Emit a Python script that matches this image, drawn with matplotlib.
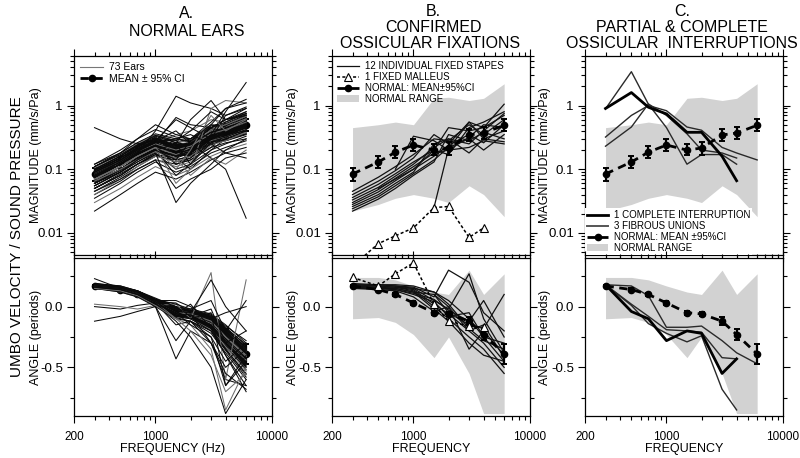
import numpy as np
import matplotlib.pyplot as plt
from matplotlib.lines import Line2D
from matplotlib.patches import Patch
from matplotlib.ticker import FixedLocator, LogLocator, MultipleLocator, NullFormatter

plt.rcParams['font.family'] = ['Liberation Sans', 'DejaVu Sans']
nan = float('nan')

freqs = [300, 500, 700, 1000, 1500, 2000, 3000, 4000, 6000]

# normal ears: mean and 95% CI
mean_mag = [0.084, 0.13, 0.185, 0.24, 0.20, 0.215, 0.345, 0.37, 0.49]
ci_mag_lo = [0.065, 0.105, 0.15, 0.19, 0.165, 0.17, 0.28, 0.30, 0.40]
ci_mag_hi = [0.105, 0.16, 0.23, 0.30, 0.25, 0.27, 0.43, 0.46, 0.62]
mean_ang = [0.17, 0.14, 0.10, 0.03, -0.05, -0.06, -0.12, -0.23, -0.39]
ci_ang = [0.01, 0.01, 0.012, 0.015, 0.015, 0.015, 0.035, 0.045, 0.08]

# normal range (shaded)
range_mag_lo = [0.022, 0.028, 0.035, 0.04, 0.035, 0.03, 0.055, 0.04, 0.018]
range_mag_hi = [0.45, 0.5, 0.55, 0.5, 1.3, 1.35, 1.2, 1.3, 2.2]
range_ang_lo = [-0.10, -0.09, -0.13, -0.23, -0.42, -0.25, -0.55, -0.88, -0.88]
range_ang_hi = [0.24, 0.24, 0.22, 0.17, 0.12, 0.10, 0.30, 0.10, 0.27]

# 73 individual normal ears
ears_mag = [
    [.080, .13, .19, .25, .20, .22, .35, .38, .50],
    [.070, .11, .16, .22, .12, .15, .30, .33, .45],
    [.095, .15, .21, .28, .24, .25, .40, .42, .55],
    [.060, .10, .14, .19, .15, .10, .20, .30, .40],
    [.110, .17, .24, .30, .22, .24, .38, .45, .62],
    [.050, .085, .12, .17, .13, .15, .25, .28, .36],
    [.085, .14, .20, .27, .30, .26, .45, .50, .70],
    [.075, .12, .18, .24, .12, .14, .22, .35, .48],
    [.090, .15, .22, .30, .28, .20, .30, .55, .80],
    [.065, .10, .15, .20, .25, .30, .42, .40, .52],
    [.045, .075, .11, .16, .18, .22, .33, .30, .38],
    [.100, .16, .23, .32, .20, .18, .28, .40, .58],
    [.120, .18, .26, .35, .26, .30, .50, .48, .65],
    [.055, .09, .13, .18, .10, .12, .20, .25, .33],
    [.080, .13, .19, .26, .35, .40, .60, .55, .75],
    [.070, .12, .17, .23, .18, .16, .26, .32, .42],
    [.040, .065, .10, .14, .12, .14, .22, .26, .30],
    [.085, .14, .21, .29, .21, .25, .38, .35, .46],
    [.095, .15, .22, .31, .23, .22, .32, .45, .60],
    [.060, .10, .15, .21, .16, .20, .35, .42, .55],
    [.075, .12, .18, .22, .14, .16, .30, .38, .52],
    [.110, .18, .26, .36, .30, .28, .42, .50, .68],
    [.035, .06, .09, .13, .09, .11, .18, .22, .28],
    [.065, .11, .16, .22, .22, .25, .45, .60, .90],
    [.090, .14, .20, .25, .17, .20, .32, .30, .38],
    [.080, .13, .18, .23, .19, .24, .40, .45, .62],
    [.050, .08, .12, .16, .14, .16, .28, .34, .45],
    [.070, .11, .17, .24, .20, .21, .30, .28, .35],
    [.100, .16, .24, .33, .26, .24, .36, .42, .55],
    [.030, .05, .075, .11, .08, .10, .16, .20, .25],
    [.085, .13, .19, .27, .22, .27, .48, .52, .72],
    [.060, .095, .14, .20, .16, .18, .30, .40, .58],
    [.075, .12, .17, .22, .25, .20, .24, .30, .36],
    [.120, .20, .30, .42, .32, .30, .45, .55, .75],
    [.045, .07, .10, .14, .11, .13, .24, .28, .38],
    [.090, .14, .21, .28, .20, .23, .36, .40, .50],
    [.065, .10, .15, .21, .18, .22, .38, .45, .65],
    [.080, .12, .17, .20, .08, .12, .26, .30, .40],
    [.055, .09, .14, .20, .17, .19, .32, .38, .48],
    [.105, .17, .25, .35, .28, .26, .40, .46, .62],
    [.070, .11, .16, .21, .16, .18, .30, .36, .50],
    [.095, .15, .21, .26, .20, .25, .44, .40, .52],
    [.060, .10, .15, .22, .19, .20, .28, .34, .44],
    [.085, .13, .20, .28, .24, .22, .34, .48, .70],
    [.040, .07, .11, .16, .13, .16, .28, .32, .42],
    [.075, .12, .18, .25, .21, .24, .36, .44, .58],
    [.110, .17, .24, .30, .24, .26, .38, .42, .55],
    [.050, .08, .12, .17, .15, .18, .30, .36, .50],
    [.080, .13, .19, .26, .19, .21, .33, .39, .50],
    [.070, .11, .16, .22, .17, .22, .42, .50, .68],
    [.090, .14, .20, .27, .23, .25, .38, .36, .45],
    [.065, .10, .15, .20, .16, .17, .27, .32, .42],
    [.100, .16, .23, .30, .22, .22, .35, .45, .58],
    [.055, .09, .13, .19, .16, .19, .33, .40, .55],
    [.085, .13, .19, .25, .20, .23, .36, .42, .55],
    [.075, .12, .17, .23, .18, .20, .31, .37, .48],
    [.022, .04, .06, .09, .07, .09, .14, .18, .22],
    [.450, .30, .25, .28, .60, .45, .30, .35, .40],
    [.080, .12, .18, .40, 1.40, 1.10, .90, .70, .90],
    [.070, .11, .16, .22, .06, .10, .90, 1.20, 1.10],
    [.060, .10, .15, .20, .25, .60, 1.20, .60, .80],
    [.090, .14, .20, .28, .40, .25, .15, .10, .017],
    [.050, .08, .12, .18, .03, .06, .12, .20, .30],
    [.075, .12, .18, .24, .18, .20, .35, .80, 2.30],
    [.065, .10, .14, .19, .15, .08, .15, .12, .20],
    [.085, .13, .19, .26, .65, .50, .45, .60, .75],
    [.110, .18, .30, .50, .35, .30, .55, .90, 1.10],
    [.045, .07, .10, .14, .05, .07, .10, .15, .18],
    [.095, .15, .22, .30, .25, .12, .30, .70, .95],
    [.070, .11, .16, .22, .10, .20, .70, .40, .60],
    [.080, .13, .19, .27, .30, .35, .25, .18, .15],
    [.060, .09, .14, .20, .14, .28, .50, .90, 1.25],
    [.100, .16, .24, .34, .28, .40, .80, .60, .70],
]
ears_ang = [
    [.17, .15, .11, .04, -.04, -.06, -.12, -.22, -.38],
    [.18, .16, .12, .05, -.02, -.05, -.10, -.20, -.40],
    [.16, .13, .09, .02, -.06, -.07, -.14, -.26, -.42],
    [.17, .15, .12, .06, -.03, -.04, -.08, -.18, -.35],
    [.15, .12, .08, .01, -.08, -.10, -.18, -.30, -.48],
    [.18, .16, .13, .07, .00, -.02, -.06, -.15, -.30],
    [.17, .14, .10, .03, -.05, -.08, -.15, -.28, -.45],
    [.16, .14, .10, .04, -.04, -.05, -.10, -.24, -.50],
    [.18, .15, .11, .03, -.07, -.09, -.20, -.35, -.55],
    [.17, .15, .12, .05, -.01, -.03, -.08, -.20, -.36],
    [.16, .13, .09, .01, -.09, -.12, -.22, -.38, -.60],
    [.17, .15, .11, .04, -.03, -.06, -.12, -.25, -.40],
    [.19, .17, .13, .06, -.02, -.04, -.10, -.22, -.42],
    [.15, .13, .09, .02, -.05, -.08, -.16, -.30, -.46],
    [.17, .14, .10, .03, -.06, -.07, -.13, -.27, -.44],
    [.18, .16, .12, .05, -.03, -.05, -.09, -.19, -.33],
    [.16, .14, .10, .03, -.04, -.07, -.14, -.26, -.41],
    [.17, .15, .11, .04, -.05, -.06, -.11, -.23, -.38],
    [.18, .15, .11, .03, -.06, -.08, -.17, -.32, -.52],
    [.16, .13, .10, .04, -.02, -.04, -.09, -.21, -.37],
    [.17, .15, .12, .06, .00, -.03, -.07, -.16, -.28],
    [.15, .12, .08, .00, -.10, -.12, -.20, -.36, -.58],
    [.17, .14, .10, .03, -.05, -.06, -.12, -.24, -.39],
    [.18, .16, .12, .04, -.04, -.05, -.11, -.22, -.43],
    [.16, .14, .11, .05, -.02, -.05, -.10, -.20, -.35],
    [.17, .15, .11, .03, -.06, -.09, -.16, -.30, -.47],
    [.19, .16, .12, .05, -.03, -.04, -.08, -.18, -.34],
    [.16, .13, .09, .02, -.07, -.08, -.15, -.29, -.45],
    [.17, .15, .12, .05, -.01, -.06, -.13, -.26, -.40],
    [.18, .15, .11, .04, -.05, -.07, -.12, -.24, -.41],
    [.16, .14, .10, .02, -.06, -.07, -.14, -.28, -.46],
    [.17, .14, .10, .04, -.04, -.05, -.09, -.20, -.38],
    [.15, .13, .10, .03, -.05, -.08, -.18, -.34, -.50],
    [.18, .16, .13, .06, -.01, -.03, -.07, -.17, -.32],
    [.17, .15, .11, .03, -.06, -.06, -.10, -.22, -.40],
    [.16, .13, .09, .02, -.07, -.09, -.17, -.31, -.49],
    [.17, .15, .11, .04, -.03, -.05, -.11, -.24, -.41],
    [.18, .16, .12, .05, -.02, -.04, -.10, -.21, -.36],
    [.16, .14, .10, .03, -.05, -.07, -.13, -.27, -.44],
    [.17, .14, .10, .02, -.08, -.10, -.19, -.33, -.53],
    [.18, .15, .11, .04, -.04, -.05, -.11, -.23, -.39],
    [.16, .14, .11, .05, -.01, -.04, -.09, -.19, -.34],
    [.17, .15, .11, .03, -.05, -.07, -.14, -.29, -.47],
    [.17, .14, .10, .03, -.06, -.08, -.15, -.26, -.42],
    [.18, .16, .12, .05, -.03, -.05, -.12, -.25, -.40],
    [.16, .13, .09, .01, -.08, -.09, -.16, -.30, -.48],
    [.17, .15, .11, .04, -.04, -.06, -.12, -.22, -.37],
    [.15, .13, .10, .04, -.03, -.06, -.13, -.27, -.45],
    [.17, .15, .12, .05, -.02, -.03, -.08, -.18, -.31],
    [.18, .16, .12, .04, -.05, -.07, -.14, -.28, -.44],
    [.16, .14, .10, .03, -.04, -.06, -.11, -.21, -.36],
    [.17, .14, .10, .02, -.07, -.09, -.18, -.35, -.56],
    [.18, .15, .11, .04, -.03, -.05, -.10, -.22, -.38],
    [.16, .14, .11, .04, -.04, -.07, -.15, -.28, -.43],
    [.17, .15, .11, .03, -.05, -.06, -.12, -.25, -.41],
    [.17, .15, .12, .05, -.02, -.04, -.09, -.20, -.35],
    [.23, .15, .10, .02, -.08, -.10, -.20, -.40, -.70],
    [.00, -.02, .01, .03, -.05, -.08, -.15, -.30, -.50],
    [-.12, -.08, -.04, .00, -.43, -.20, -.30, -.60, -.65],
    [.02, .00, -.02, .01, .02, -.10, .28, -.60, .22],
    [.18, .16, .12, .04, .03, -.05, .22, .00, -.20],
    [.17, .15, .11, .02, -.12, -.25, -.50, -.88, -.60],
    [.16, .14, .10, .00, -.28, -.12, -.30, -.55, -.68],
    [.18, .16, .12, .05, -.04, -.10, -.05, -.65, -.40],
    [.17, .15, .11, .04, -.10, -.15, -.35, -.85, -.50],
    [.16, .14, .10, .05, .05, .00, -.10, -.05, .00],
    [.18, .16, .12, .03, -.15, -.12, -.25, -.45, -.30],
    [.17, .15, .11, .04, -.06, .02, -.18, -.40, -.65],
    [.19, .17, .13, .06, .02, -.02, .05, -.20, .05],
    [.15, .13, .09, .01, -.10, -.20, -.40, -.70, -.55],
    [.17, .15, .12, .06, .00, -.08, -.02, -.30, -.20],
    [.16, .14, .10, .02, -.05, -.15, -.25, -.65, -.45],
    [.18, .16, .12, .04, -.08, -.06, -.30, -.50, -.35],
]

# 12 fixed stapes
stapes_mag = [
    [0.045, 0.075, 0.11, 0.17, 0.30, 0.28, 0.50, 0.35, 0.60],
    [0.040, 0.065, 0.095, 0.15, 0.35, 0.25, 0.55, 0.30, 0.27],
    [0.036, 0.058, 0.085, 0.13, 0.20, 0.45, 0.40, 0.45, 1.05],
    [0.033, 0.052, 0.078, 0.12, 0.22, 0.30, 0.25, 0.40, 0.75],
    [0.030, 0.048, 0.072, 0.11, 0.18, 0.20, 0.32, 0.50, 0.45],
    [0.028, 0.044, 0.066, 0.10, 0.16, 0.24, 0.35, 0.26, 0.50],
    [0.026, 0.040, 0.060, 0.09, 0.25, 0.30, 0.18, 0.30, 0.40],
    [0.024, 0.037, 0.055, 0.085, 0.14, 0.22, 0.30, 0.20, 0.35],
    [0.022, 0.034, 0.050, 0.08, 0.13, 0.35, 0.28, 0.38, 0.30],
    [nan, 0.05, 0.07, 0.10, 0.20, 0.17, 0.45, 0.55, 0.80],
    [nan, nan, 0.10, 0.33, 0.28, 0.20, 0.22, 0.28, 0.25],
    [nan, nan, nan, nan, 0.025, 0.21, 0.55, 0.45, 0.70],
]
stapes_ang = [
    [0.19, 0.18, 0.18, 0.17, 0.12, 0.05, -0.10, -0.25, -0.45],
    [0.18, 0.18, 0.17, 0.16, 0.08, 0.30, 0.20, -0.05, -0.20],
    [0.18, 0.17, 0.17, 0.15, 0.05, -0.02, 0.27, -0.10, -0.38],
    [0.17, 0.17, 0.16, 0.14, 0.02, -0.06, -0.20, -0.30, -0.50],
    [0.17, 0.16, 0.16, 0.13, 0.00, -0.10, -0.25, -0.35, -0.55],
    [0.16, 0.16, 0.15, 0.12, 0.10, -0.05, -0.15, -0.18, 0.10],
    [0.16, 0.15, 0.15, 0.12, -0.02, -0.12, -0.30, -0.40, -0.45],
    [0.15, 0.15, 0.14, 0.10, 0.04, -0.08, -0.05, -0.25, -0.30],
    [0.15, 0.14, 0.13, 0.08, -0.04, 0.00, -0.35, -0.20, -0.40],
    [nan, 0.15, 0.14, 0.11, 0.06, -0.03, -0.12, 0.05, -0.25],
    [nan, nan, 0.16, 0.15, 0.12, 0.02, -0.18, -0.28, -0.35],
    [nan, nan, nan, nan, 0.10, 0.00, -0.20, -0.15, -0.42],
]

# 1 fixed malleus (300-4000 Hz)
malleus_mag = [0.003, 0.0068, 0.009, 0.012, 0.025, 0.026, 0.0085, 0.012]
malleus_ang = [0.24, 0.17, 0.27, 0.36, 0.02, -0.12, -0.16, -0.17]

# interruptions
complete_mag = [0.90, 1.60, 0.94, 0.74, 0.38, 0.38, 0.16, 0.066]
complete_ang = [0.18, -0.04, -0.10, -0.28, -0.20, -0.22, -0.55, -0.43]
fibrous_mag = [
    [0.89, 3.40, 1.05, 0.45, 0.12, 0.17, 0.17, 0.12],
    [0.32, 0.70, 1.00, 0.83, 0.46, 0.41, 0.22, 0.18, 0.14],
    [0.23, 0.46, 1.06, 0.70, 0.36, 0.20, 0.18, 0.15],
]
fibrous_ang = [
    [0.18, 0.01, -0.14, -0.22, -0.29, -0.24, -0.68, -0.85],
    [0.18, 0.17, 0.09, -0.17, -0.17, -0.16, -0.28, -0.38, -0.47],
    [0.18, 0.02, -0.08, -0.19, -0.20, -0.21, -0.42, -0.43],
]

W, H = 800, 458
fig = plt.figure(figsize=(8, 4.58), dpi=100)

lefts = [74, 332, 585]
width = 198
shade = '#d2d2d2'


def px_axes(left, top, bottom):
    return fig.add_axes([left / W, 1 - bottom / H, width / W, (bottom - top) / H])


def style_x(ax, labels):
    ax.set_xscale('log')
    ax.set_xlim(200, 10000)
    ax.xaxis.set_major_locator(FixedLocator([200, 1000, 10000]))
    ax.xaxis.set_minor_locator(LogLocator(base=10, subs=np.arange(2, 10), numticks=20))
    ax.xaxis.set_minor_formatter(NullFormatter())
    if labels:
        ax.set_xticklabels(['200', '1000', '10000'])
    ax.tick_params(which='both', direction='out', top=True, right=True, width=0.8,
                   labelbottom=labels, labelsize=8.5, pad=6)
    ax.tick_params(which='major', length=5)
    ax.tick_params(which='minor', length=3)
    for s in ax.spines.values():
        s.set_linewidth(0.9)


def style_mag(ax):
    style_x(ax, False)
    ax.set_yscale('log')
    ax.set_ylim(0.0045, 6)
    ax.set_yticks([0.01, 0.1, 1])
    ax.set_yticklabels(['0.01', '0.1', '1'])
    ax.yaxis.set_minor_locator(LogLocator(base=10, subs=np.arange(2, 10), numticks=20))
    ax.yaxis.set_minor_formatter(NullFormatter())
    ax.tick_params(axis='y', labelsize=9.5, pad=3)


def style_ang(ax):
    style_x(ax, True)
    ax.set_ylim(-0.9, 0.4)
    ax.set_yticks([0.0, -0.5])
    ax.set_yticklabels(['0.0', '-0.5'])
    ax.yaxis.set_minor_locator(MultipleLocator(0.25))
    ax.tick_params(axis='y', labelsize=9.5, pad=3)


def draw_mean_mag(ax, z=6):
    lo = np.array(mean_mag) - np.array(ci_mag_lo)
    hi = np.array(ci_mag_hi) - np.array(mean_mag)
    ax.errorbar(freqs, mean_mag, yerr=[lo, hi], fmt='o', color='black', ms=4.5,
                elinewidth=1.6, capsize=2.5, capthick=1.4, zorder=z)
    ax.plot(freqs, mean_mag, color='black', lw=2, dashes=(3, 2), zorder=z)


def draw_mean_ang(ax, z=6):
    ax.errorbar(freqs, mean_ang, yerr=ci_ang, fmt='o', color='black', ms=4.5,
                elinewidth=1.6, capsize=2.5, capthick=1.4, zorder=z)
    ax.plot(freqs, mean_ang, color='black', lw=2, dashes=(3, 2), zorder=z)


def draw_range(ax_m, ax_a):
    ax_m.fill_between(freqs, range_mag_lo, range_mag_hi, color=shade, lw=0, zorder=0)
    ax_a.fill_between(freqs, range_ang_lo, range_ang_hi, color=shade, lw=0, zorder=0)


mean_handle = Line2D([], [], color='black', lw=2, dashes=(3, 2), marker='o', ms=4.5)
range_handle = Patch(facecolor=shade, edgecolor='none')

# ---- A: normal ears ----
axA_m = px_axes(lefts[0], 56, 255)
axA_a = px_axes(lefts[0], 258, 416)
for i, (m, a) in enumerate(zip(ears_mag, ears_ang)):
    c = '#6e6e6e' if i % 5 == 4 else '#0a0a0a'
    axA_m.plot(freqs, m, color=c, lw=0.75, zorder=3)
    axA_a.plot(freqs, a, color=c, lw=0.75, zorder=3)
draw_mean_mag(axA_m, z=2)
draw_mean_ang(axA_a, z=2)
style_mag(axA_m)
style_ang(axA_a)
axA_m.legend([Line2D([], [], color='#777777', lw=0.8), mean_handle],
             ['73 Ears', 'MEAN \u00b1 95% CI'], loc='upper left', fontsize=7.5,
             frameon=False, handlelength=2.2, labelspacing=0.15, borderaxespad=0.2,
             handletextpad=0.6)
axA_a.set_xlabel('FREQUENCY (Hz)', fontsize=9, labelpad=0)

# ---- B: ossicular fixations ----
axB_m = px_axes(lefts[1], 56, 255)
axB_a = px_axes(lefts[1], 258, 416)
draw_range(axB_m, axB_a)
for m, a in zip(stapes_mag, stapes_ang):
    axB_m.plot(freqs, m, color='#111111', lw=0.9, zorder=3)
    axB_a.plot(freqs, a, color='#111111', lw=0.9, zorder=3)
draw_mean_mag(axB_m)
draw_mean_ang(axB_a)
tri = dict(color='black', lw=1.1, dashes=(2, 1.5), marker='^', ms=6,
           markerfacecolor='white', markeredgecolor='black', markeredgewidth=0.8, zorder=7)
axB_m.plot(freqs[:8], malleus_mag, **tri)
axB_a.plot(freqs[:8], malleus_ang, **tri)
style_mag(axB_m)
style_ang(axB_a)
axB_m.legend([Line2D([], [], color='#111111', lw=0.9),
              Line2D([], [], color='black', lw=1.1, dashes=(2, 1.5), marker='^', ms=6,
                     markerfacecolor='white', markeredgecolor='black', markeredgewidth=0.8),
              mean_handle, range_handle],
             ['12 INDIVIDUAL FIXED STAPES', '1 FIXED MALLEUS', 'NORMAL: MEAN\u00b195%CI',
              'NORMAL RANGE'], loc='upper left', fontsize=7, frameon=False,
             handlelength=2.2, labelspacing=0.1, borderaxespad=0.15, handletextpad=0.6)
axB_a.set_xlabel('FREQUENCY', fontsize=9, labelpad=0)

# ---- C: ossicular interruptions ----
axC_m = px_axes(lefts[2], 56, 255)
axC_a = px_axes(lefts[2], 258, 416)
draw_range(axC_m, axC_a)
for m, a in zip(fibrous_mag, fibrous_ang):
    axC_m.plot(freqs[:len(m)], m, color='#2a2a2a', lw=1.0, zorder=3)
    axC_a.plot(freqs[:len(a)], a, color='#2a2a2a', lw=1.0, zorder=3)
axC_m.plot(freqs[:len(complete_mag)], complete_mag, color='black', lw=2, zorder=4)
axC_a.plot(freqs[:len(complete_ang)], complete_ang, color='black', lw=2, zorder=4)
draw_mean_mag(axC_m)
draw_mean_ang(axC_a)
style_mag(axC_m)
style_ang(axC_a)
legC = axC_m.legend([Line2D([], [], color='black', lw=2),
                     Line2D([], [], color='#555555', lw=1.4),
                     mean_handle, range_handle],
                    ['1 COMPLETE INTERRUPTION', '3 FIBROUS UNIONS',
                     'NORMAL: MEAN \u00b195%CI', 'NORMAL RANGE'],
                    loc='lower left', fontsize=7, frameon=True, facecolor='white',
                    edgecolor='none', framealpha=1, fancybox=False,
                    handlelength=2.2, labelspacing=0.1, borderaxespad=0.0,
                    borderpad=0.2, handletextpad=0.6)
legC.set_zorder(10)
axC_a.set_xlabel('FREQUENCY', fontsize=9, labelpad=0)

# ---- titles and y labels ----
tfs = 11.5
fig.text(187 / W, 1 - 13 / H, 'A.', ha='center', va='center', fontsize=tfs)
fig.text(187 / W, 1 - 32 / H, 'NORMAL EARS', ha='center', va='center', fontsize=tfs)
fig.text(433 / W, 1 - 11 / H, 'B.', ha='center', va='center', fontsize=tfs)
fig.text(433 / W, 1 - 27 / H, 'CONFIRMED', ha='center', va='center', fontsize=tfs)
fig.text(430 / W, 1 - 44 / H, 'OSSICULAR FIXATIONS', ha='center', va='center', fontsize=tfs)
fig.text(682 / W, 1 - 11 / H, 'C.', ha='center', va='center', fontsize=tfs)
fig.text(682 / W, 1 - 27 / H, 'PARTIAL & COMPLETE', ha='center', va='center', fontsize=tfs)
fig.text(682 / W, 1 - 44 / H, 'OSSICULAR  INTERRUPTIONS', ha='center', va='center',
         fontsize=tfs)

fig.text(17 / W, 1 - 237 / H, 'UMBO VELOCITY / SOUND PRESSURE', rotation=90,
         ha='center', va='center', fontsize=11)
for x in [36, 293, 545]:
    fig.text(x / W, 1 - 155 / H, 'MAGNITUDE (mm/s/Pa)', rotation=90,
             ha='center', va='center', fontsize=9)
    fig.text(x / W, 1 - 337 / H, 'ANGLE (periods)', rotation=90,
             ha='center', va='center', fontsize=9)

fig.savefig('out.png', dpi=100)
